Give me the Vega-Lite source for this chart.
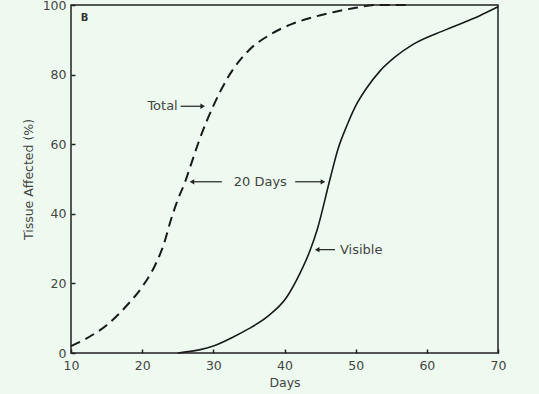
{
  "$schema": "https://vega.github.io/schema/vega-lite/v6.json",
  "width": 427,
  "height": 348,
  "autosize": "none",
  "padding": {"left": 71, "top": 5, "right": 41, "bottom": 41},
  "background": "#eefaef",
  "config": {
    "view": {"stroke": "#222", "strokeWidth": 1.5},
    "font": "DejaVu Sans",
    "axis": {
      "domain": false, "grid": false, "tickColor": "#222", "tickSize": -4, "tickWidth": 1.5, "labelFlush": false,
      "labelColor": "#444", "labelFontSize": 12.5, "titleColor": "#444", "titleFontSize": 12.5, "titleFontWeight": "normal"
    }
  },
  "datasets": {
    "total": [
      {"day": 10, "pct": 2}, {"day": 12, "pct": 4}, {"day": 15, "pct": 8}, {"day": 18, "pct": 14},
      {"day": 20, "pct": 19}, {"day": 22, "pct": 26}, {"day": 23, "pct": 31}, {"day": 24, "pct": 38},
      {"day": 25, "pct": 44}, {"day": 26, "pct": 49}, {"day": 27, "pct": 55}, {"day": 28, "pct": 61},
      {"day": 30, "pct": 71}, {"day": 32, "pct": 79}, {"day": 35, "pct": 87}, {"day": 38, "pct": 91.5},
      {"day": 41, "pct": 94.5}, {"day": 44, "pct": 96.5}, {"day": 47, "pct": 98}, {"day": 50, "pct": 99.2},
      {"day": 53, "pct": 100}, {"day": 57.7, "pct": 100}
    ],
    "visible": [
      {"day": 25, "pct": 0}, {"day": 28, "pct": 0.9}, {"day": 30, "pct": 2}, {"day": 32.8, "pct": 4.6},
      {"day": 35, "pct": 7}, {"day": 37.5, "pct": 10.3}, {"day": 40.3, "pct": 16}, {"day": 42.2, "pct": 23},
      {"day": 43.6, "pct": 29.5}, {"day": 44.6, "pct": 35.5}, {"day": 46.4, "pct": 50}, {"day": 47.5, "pct": 58.5},
      {"day": 48.8, "pct": 65.5}, {"day": 50, "pct": 71}, {"day": 51.5, "pct": 76}, {"day": 53.4, "pct": 81},
      {"day": 55.5, "pct": 85}, {"day": 58, "pct": 88.6}, {"day": 62.8, "pct": 93}, {"day": 67.5, "pct": 97},
      {"day": 70, "pct": 99.5}
    ],
    "arrows": [
      {"x1": 25.4, "x2": 28.5, "pct": 70.9, "head": 28.5, "dir": "right"},
      {"x1": 31.2, "x2": 27.0, "pct": 49.2, "head": 27.0, "dir": "left"},
      {"x1": 41.5, "x2": 45.4, "pct": 49.2, "head": 45.4, "dir": "right"},
      {"x1": 47.1, "x2": 44.6, "pct": 29.7, "head": 44.6, "dir": "left"}
    ]
  },
  "layer": [
    {
      "data": {"name": "total"},
      "mark": {"type": "line", "interpolate": "monotone", "color": "#1a1a1a", "strokeWidth": 2, "strokeDash": [10, 6]},
      "encoding": {
        "x": {"field": "day", "type": "quantitative", "scale": {"domain": [10, 70], "nice": false},
              "axis": {"values": [10, 20, 30, 40, 50, 60, 70], "title": "Days", "titlePadding": 5, "labelPadding": 10}},
        "y": {"field": "pct", "type": "quantitative", "scale": {"domain": [0, 100], "nice": false},
              "axis": {"values": [0, 20, 40, 60, 80, 100], "title": "Tissue Affected (%)", "titlePadding": 7, "labelPadding": 9}}
      }
    },
    {
      "data": {"name": "visible"},
      "mark": {"type": "line", "interpolate": "monotone", "color": "#1a1a1a", "strokeWidth": 1.6},
      "encoding": {
        "x": {"field": "day", "type": "quantitative"},
        "y": {"field": "pct", "type": "quantitative"}
      }
    },
    {
      "data": {"values": [{"day": 25.0, "pct": 70.9, "label": "Total"}]},
      "mark": {"type": "text", "fontSize": 13, "color": "#444", "baseline": "middle", "align": "right"},
      "encoding": {
        "x": {"field": "day", "type": "quantitative"},
        "y": {"field": "pct", "type": "quantitative"},
        "text": {"field": "label"}
      }
    },
    {
      "data": {"values": [{"day": 36.6, "pct": 49.2, "label": "20 Days"}]},
      "mark": {"type": "text", "fontSize": 13, "color": "#444", "baseline": "middle", "align": "center"},
      "encoding": {
        "x": {"field": "day", "type": "quantitative"},
        "y": {"field": "pct", "type": "quantitative"},
        "text": {"field": "label"}
      }
    },
    {
      "data": {"values": [{"day": 47.8, "pct": 29.7, "label": "Visible"}]},
      "mark": {"type": "text", "fontSize": 13, "color": "#444", "baseline": "middle", "align": "left"},
      "encoding": {
        "x": {"field": "day", "type": "quantitative"},
        "y": {"field": "pct", "type": "quantitative"},
        "text": {"field": "label"}
      }
    },
    {
      "data": {"name": "arrows"},
      "mark": {"type": "rule", "color": "#222", "strokeWidth": 1.2},
      "encoding": {
        "x": {"field": "x1", "type": "quantitative"},
        "x2": {"field": "x2"},
        "y": {"field": "pct", "type": "quantitative"}
      }
    },
    {
      "data": {"name": "arrows"},
      "mark": {"type": "point", "filled": true, "color": "#222", "size": 28, "opacity": 1},
      "encoding": {
        "x": {"field": "head", "type": "quantitative"},
        "y": {"field": "pct", "type": "quantitative"},
        "shape": {"field": "dir", "type": "nominal", "scale": {"domain": ["left", "right"], "range": ["triangle-left", "triangle-right"]}, "legend": null}
      }
    },
    {
      "data": {"values": [{"day": 11.9, "pct": 96.2, "t": "B"}]},
      "mark": {"type": "text", "fontSize": 10, "fontWeight": "bold", "color": "#333", "align": "center", "baseline": "middle"},
      "encoding": {
        "x": {"field": "day", "type": "quantitative"},
        "y": {"field": "pct", "type": "quantitative"},
        "text": {"field": "t"}
      }
    }
  ]
}
